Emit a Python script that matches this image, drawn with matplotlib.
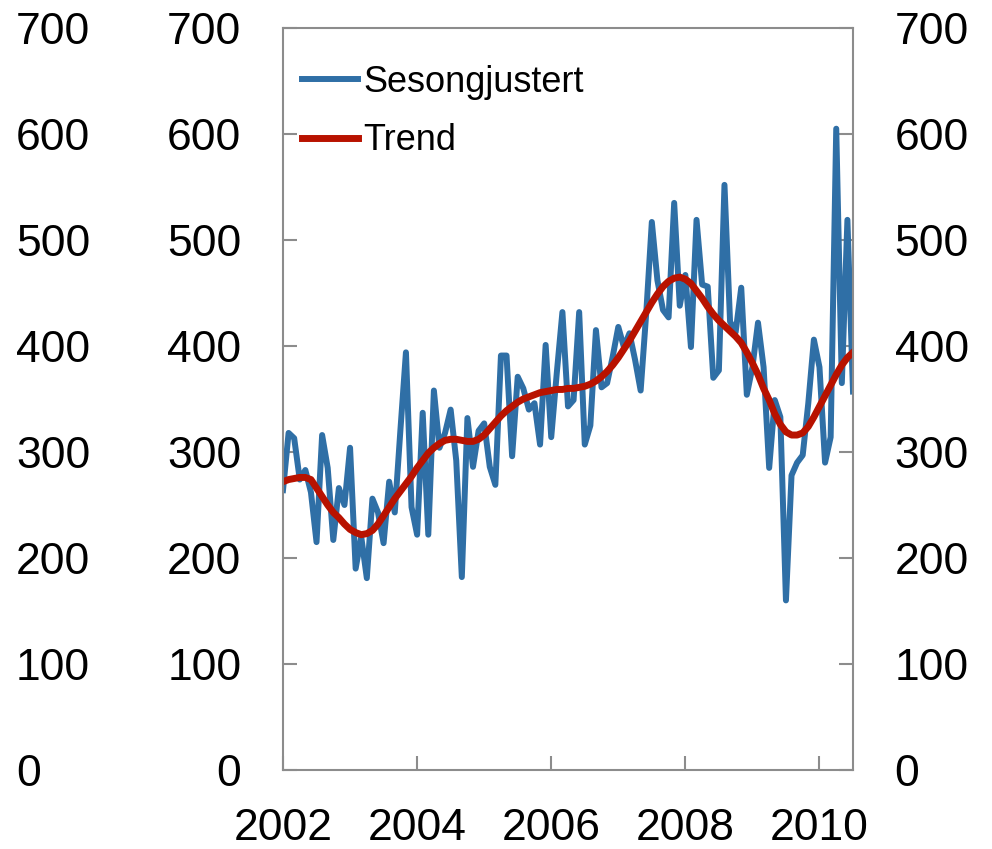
import matplotlib
matplotlib.use("Agg")
import matplotlib.pyplot as plt
import matplotlib.transforms as mtransforms
import numpy as np

plt.rcParams['font.family'] = ['Liberation Sans', 'DejaVu Sans']

# --- Data: monthly, Jan 2002 - Jul 2010 ---
start_year = 2002
sesongjustert = [
    264, 318, 313, 274, 283, 262, 215, 316, 285, 217, 266, 250,   # 2002
    304, 190, 220, 181, 256, 243, 214, 272, 243, 320, 394, 248,   # 2003
    222, 337, 222, 358, 304, 318, 340, 292, 182, 332, 286, 320,   # 2004
    327, 286, 269, 391, 391, 296, 371, 360, 340, 346, 307, 401,   # 2005
    314, 375, 432, 343, 349, 432, 307, 325, 415, 361, 365, 390,   # 2006
    418, 399, 412, 387, 358, 431, 517, 462, 434, 427, 535, 438,   # 2007
    467, 399, 519, 458, 456, 370, 377, 552, 423, 413, 455, 354,   # 2008
    380, 422, 380, 285, 349, 333, 160, 278, 290, 297, 346, 406,   # 2009
    380, 290, 314, 605, 365, 519, 357,                            # 2010
]
trend = [
    272, 274, 275, 276, 276, 274, 266, 258, 250, 243, 238, 232,
    227, 224, 222, 223, 226, 232, 240, 248, 256, 263, 270, 277,
    285, 292, 299, 304, 308, 311, 312, 312, 311, 310, 310, 312,
    316, 322, 328, 334, 339, 343, 347, 350, 352, 354, 356, 357,
    358, 359, 359, 360, 360, 361, 362, 364, 367, 371, 376, 382,
    389, 397, 405, 414, 423, 432, 441, 449, 456, 461, 464, 465,
    463, 459, 452, 445, 437, 430, 424, 419, 414, 409, 403, 394,
    384, 373, 360, 349, 336, 326, 319, 316, 316, 318, 324, 333,
    343, 353, 363, 373, 382, 389, 394,
]
year_ticks = [2002, 2004, 2006, 2008, 2010]
y_ticks = [0, 100, 200, 300, 400, 500, 600, 700]

x = start_year + np.arange(len(sesongjustert)) / 12.0

fig = plt.figure(figsize=(9.92, 8.49), dpi=100)
ax = fig.add_axes([283 / 992, 79 / 849, 570 / 992, 742 / 849])

ax.plot(x, sesongjustert, color='#2F6FA6', lw=4.3, label='Sesongjustert',
        solid_joinstyle='round')
ax.plot(x, trend, color='#B81200', lw=5.0, label='Trend')

ax.set_xlim(x[0], x[-1])
ax.set_ylim(0, 700)

frame_col = '#8C8C8C'
for s in ax.spines.values():
    s.set_color(frame_col)
    s.set_linewidth(1.5)

fs = 32
ax.set_xticks(year_ticks)
ax.set_xticklabels([str(y) for y in year_ticks])
ax.set_yticks(y_ticks)
ax.set_yticklabels([str(v) for v in y_ticks])
ax.tick_params(axis='both', direction='in', length=10, width=1.5,
               color=frame_col, labelsize=fs, labelcolor='black')
ax.tick_params(axis='y', right=True, labelright=True, pad=30)
ax.tick_params(axis='x', pad=27)

# outer left column of y labels
trans = mtransforms.blended_transform_factory(fig.transFigure, ax.transData)
for v in y_ticks:
    ax.text(16 / 992, v, str(v), transform=trans, ha='left',
            va='center_baseline', fontsize=fs, clip_on=False)

ax.legend(loc='upper left', bbox_to_anchor=(0.033, 0.950), frameon=False,
          fontsize=26, handlelength=1.55, handletextpad=0.15,
          labelspacing=0.64, borderpad=0, borderaxespad=0)

fig.savefig('out.png', dpi=100)
